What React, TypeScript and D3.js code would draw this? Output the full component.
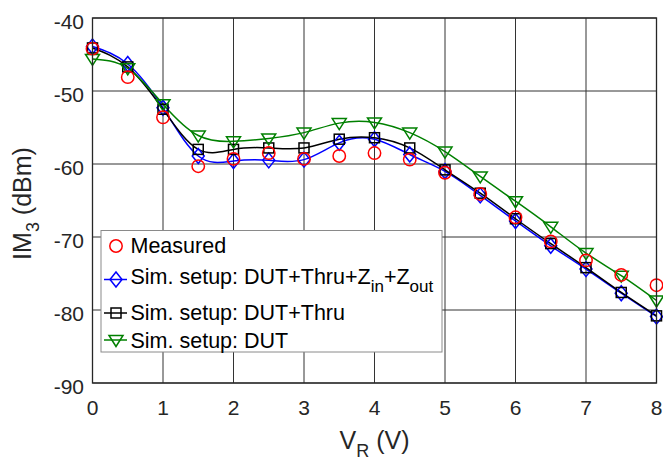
import React from "react";
import * as d3 from "d3";

const xs = [0, 0.5, 1, 1.5, 2, 2.5, 3, 3.5, 4, 4.5, 5, 5.5, 6, 6.5, 7, 7.5, 8];
const measured = [-44.2, -48.1, -53.6, -60.3, -59.3, -58.5, -59.3, -58.9, -58.5, -59.4, -61.2, -64.1, -67.3, -70.6, -73.2, -75.2, -76.6];
const simFull = [-43.9, -46.3, -52.3, -58.9, -59.6, -59.5, -59.4, -57.1, -56.6, -58.7, -61.0, -64.3, -67.8, -71.2, -74.4, -77.7, -80.9];
const simThru = [-44.1, -46.7, -52.5, -58.0, -58.0, -57.8, -57.8, -56.6, -56.4, -57.8, -60.8, -64.0, -67.5, -70.9, -74.2, -77.6, -80.8];
const simDut = [-45.6, -46.9, -51.8, -56.1, -56.9, -56.5, -55.7, -54.4, -54.3, -55.7, -58.3, -61.7, -65.1, -68.6, -72.2, -75.3, -78.7];
const xTicks = [0, 1, 2, 3, 4, 5, 6, 7, 8];
const yTicks = [-40, -50, -60, -70, -80, -90];

const W = 663, H = 461;
const L = 92.5, R = 656.5, T = 18, B = 383;
const FONT = "'Liberation Sans', Arial, Helvetica, sans-serif";
const TXT = "#262626";

const x = d3.scaleLinear().domain([0, 8]).range([L, R]);
const y = d3.scaleLinear().domain([-90, -40]).range([B, T]);

type Shape = "circle" | "diamond" | "square" | "triangle";

function Marker({ shape, cx, cy, color }: { shape: Shape; cx: number; cy: number; color: string }) {
  const common = { fill: "none", stroke: color, strokeWidth: 1.5 };
  if (shape === "circle") return <circle cx={cx} cy={cy} r={6.2} {...common} />;
  if (shape === "square") return <rect x={cx - 5} y={cy - 5} width={10} height={10} {...common} />;
  if (shape === "diamond")
    return <path d={`M${cx},${cy - 7.5}L${cx + 6},${cy}L${cx},${cy + 7.5}L${cx - 6},${cy}Z`} {...common} />;
  return <path d={`M${cx - 7},${cy - 4.5}L${cx + 7},${cy - 4.5}L${cx},${cy + 6.5}Z`} {...common} />;
}

const series: { name: string; vals: number[]; color: string; shape: Shape; line: boolean }[] = [
  { name: "Measured", vals: measured, color: "#ff0000", shape: "circle", line: false },
  { name: "full", vals: simFull, color: "#0000ff", shape: "diamond", line: true },
  { name: "thru", vals: simThru, color: "#000000", shape: "square", line: true },
  { name: "dut", vals: simDut, color: "#008000", shape: "triangle", line: true },
];

export default function App() {
  const lineGen = d3
    .line<number>()
    .x((_, i) => x(xs[i]))
    .y((d) => y(d))
    .curve(d3.curveNatural);

  const legendRows = [
    { s: series[0], cy: 246 },
    { s: series[1], cy: 279.5 },
    { s: series[2], cy: 313 },
    { s: series[3], cy: 340 },
  ];

  return (
    <svg width={W} height={H} style={{ display: "block", position: "absolute", left: 0, top: 0 }} fontFamily={FONT}>
      <rect x={0} y={0} width={W} height={H} fill="#fff" />
      <rect x={L} y={T} width={R - L} height={B - T} fill="#fff" />
      {/* grid */}
      {xTicks.map((t) => (
        <line key={"gx" + t} x1={x(t)} x2={x(t)} y1={T} y2={B} stroke="#333" strokeWidth={1} />
      ))}
      {yTicks.map((t) => (
        <line key={"gy" + t} x1={L} x2={R} y1={y(t)} y2={y(t)} stroke="#333" strokeWidth={1} />
      ))}
      {/* lines */}
      {series.filter((s) => s.line).map((s) => (
        <path key={"l" + s.name} d={lineGen(s.vals) || ""} fill="none" stroke={s.color} strokeWidth={1.5} />
      ))}
      {/* markers */}
      {[series[1], series[2], series[3], series[0]].map((s) =>
        s.vals.map((v, i) => <Marker key={s.name + i} shape={s.shape} cx={x(xs[i])} cy={y(v)} color={s.color} />)
      )}
      {/* axes box */}
      <rect x={L} y={T} width={R - L} height={B - T} fill="none" stroke={TXT} strokeWidth={1.3} />
      {/* tick labels */}
      {xTicks.map((t) => (
        <text key={"xt" + t} x={x(t)} y={415} textAnchor="middle" fontSize={21} fill={TXT}>
          {t}
        </text>
      ))}
      {yTicks.map((t) => (
        <text key={"yt" + t} x={84} y={y(t) + 10.5} textAnchor="end" fontSize={21} fill={TXT}>
          {t}
        </text>
      ))}
      {/* axis titles */}
      <text x={x(4)} y={449} textAnchor="middle" fontSize={25} fill={TXT}>
        V<tspan fontSize={18} dy={8}>R</tspan>
        <tspan dy={-8}> (V)</tspan>
      </text>
      <text transform={`translate(31,${(T + B) / 2 + 3}) rotate(-90)`} textAnchor="middle" fontSize={25} fill={TXT}>
        IM<tspan fontSize={18} dy={8}>3</tspan>
        <tspan dy={-8}> (dBm)</tspan>
      </text>
      {/* legend */}
      <rect x={101} y={230.5} width={341} height={121.5} fill="#fff" stroke="#8a8a8a" strokeWidth={1} />
      {legendRows.map(({ s, cy }) => (
        <g key={"lg" + s.name}>
          {s.line && <line x1={104} x2={127} y1={cy} y2={cy} stroke={s.color} strokeWidth={1.5} />}
          <Marker shape={s.shape} cx={116} cy={cy} color={s.color} />
        </g>
      ))}
      <g fontSize={21.5} fill="#000">
        <text x={130.5} y={253}>Measured</text>
        <text x={130.5} y={284}>
          Sim. setup: DUT+Thru+Z<tspan fontSize={17} dy={8}>in</tspan>
          <tspan dy={-8}>+Z</tspan>
          <tspan fontSize={17} dy={8}>out</tspan>
        </text>
        <text x={130.5} y={320}>Sim. setup: DUT+Thru</text>
        <text x={130.5} y={347.5}>Sim. setup: DUT</text>
      </g>
    </svg>
  );
}
